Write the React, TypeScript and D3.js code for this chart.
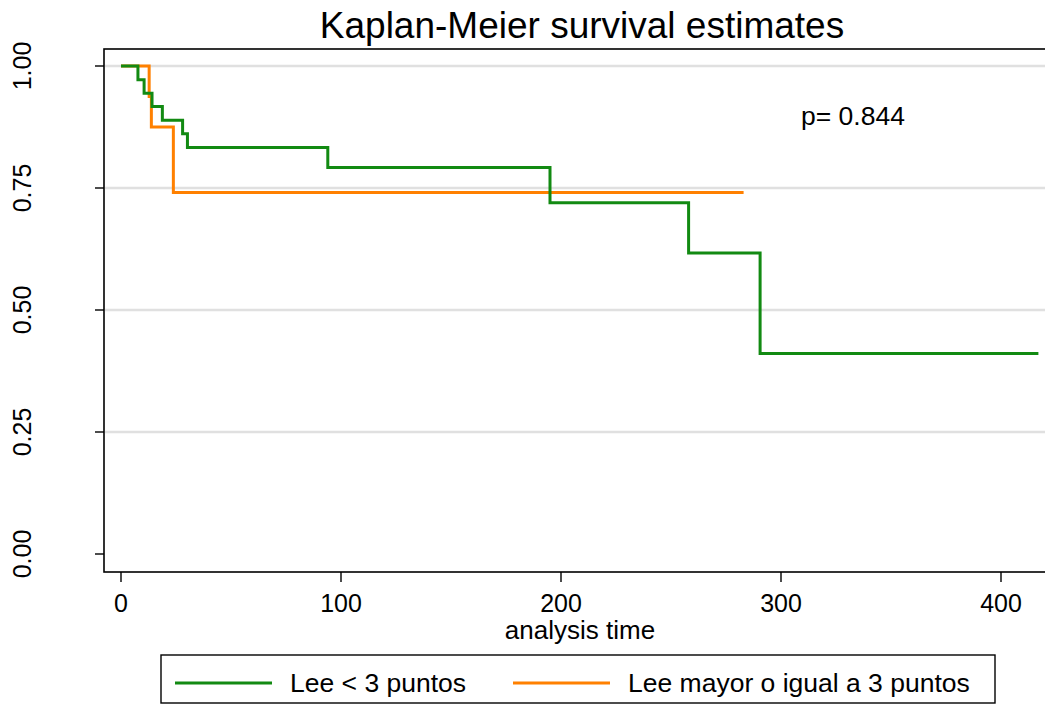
import React from "react";
import * as d3 from "d3";

const title = "Kaplan-Meier survival estimates";
const xLabel = "analysis time";
const pText = "p= 0.844";

const xTicks = [0, 100, 200, 300, 400];
const yTicks = [0, 0.25, 0.5, 0.75, 1];
const yTickLabels = ["0.00", "0.25", "0.50", "0.75", "1.00"];
const gridTicks = [0.25, 0.5, 0.75, 1];

const seriesNames = ["Lee < 3 puntos", "Lee mayor o igual a 3 puntos"];
const seriesColors = ["#128a12", "#ff8000"];

const greenTimes = [0, 7.7, 10.5, 14.1, 18.8, 28, 30.2, 94, 195, 258, 290.5, 417];
const greenSurv = [1, 0.972, 0.944, 0.917, 0.889, 0.861, 0.833, 0.792, 0.72, 0.617, 0.411, 0.411];
const orangeTimes = [0, 12.8, 13.8, 23.8, 283];
const orangeSurv = [1, 0.9375, 0.875, 0.741, 0.741];

const W = 1045;
const H = 707;
const FONT = "'Liberation Sans', Arial, Helvetica, sans-serif";

export default function App() {
  const frame = { left: 104, top: 49, right: 1058, bottom: 572 };
  const x = d3.scaleLinear().domain([0, 400]).range([121, 1001]);
  const y = d3.scaleLinear().domain([0, 1]).range([554, 66]);

  const line = d3
    .line<[number, number]>()
    .x((d) => x(d[0]))
    .y((d) => y(d[1]))
    .curve(d3.curveStepAfter);

  const green: [number, number][] = greenTimes.map((t, i) => [t, greenSurv[i]]);
  const orange: [number, number][] = orangeTimes.map((t, i) => [t, orangeSurv[i]]);

  const legend = { x: 161, y: 655, w: 834, h: 48 };

  return (
    <svg
      width={W}
      height={H}
      style={{ position: "absolute", left: 0, top: 0, background: "#fff", display: "block" }}
      fontFamily={FONT}
    >
      <rect x={0} y={0} width={W} height={H} fill="#fff" />
      <text x={582} y={38} fontSize={37} textAnchor="middle" fill="#000">
        {title}
      </text>

      {gridTicks.map((v) => (
        <line
          key={"g" + v}
          x1={frame.left + 1}
          x2={frame.right}
          y1={y(v)}
          y2={y(v)}
          stroke="#e0e0e0"
          strokeWidth={2.5}
        />
      ))}

      <path d={line(orange) || ""} fill="none" stroke={seriesColors[1]} strokeWidth={3} />
      <path d={line(green) || ""} fill="none" stroke={seriesColors[0]} strokeWidth={3} />

      <rect
        x={frame.left}
        y={frame.top}
        width={frame.right - frame.left}
        height={frame.bottom - frame.top}
        fill="none"
        stroke="#000"
        strokeWidth={1.6}
      />

      {yTicks.map((v, i) => (
        <g key={"y" + v}>
          <line x1={frame.left - 9} x2={frame.left} y1={y(v)} y2={y(v)} stroke="#000" strokeWidth={1.4} />
          <text
            transform={`translate(31,${y(v)}) rotate(-90)`}
            fontSize={25}
            textAnchor="middle"
            fill="#000"
          >
            {yTickLabels[i]}
          </text>
        </g>
      ))}

      {xTicks.map((v) => (
        <g key={"x" + v}>
          <line x1={x(v)} x2={x(v)} y1={frame.bottom} y2={frame.bottom + 10} stroke="#000" strokeWidth={1.4} />
          <text x={x(v)} y={612} fontSize={25} textAnchor="middle" fill="#000">
            {v}
          </text>
        </g>
      ))}

      <text x={580} y={639} fontSize={26} textAnchor="middle" fill="#000">
        {xLabel}
      </text>

      <text x={801} y={125} fontSize={26.5} fill="#000">
        {pText}
      </text>

      <rect x={legend.x} y={legend.y} width={legend.w} height={legend.h} fill="#fff" stroke="#000" strokeWidth={1.4} />
      <line x1={175} x2={272} y1={683} y2={683} stroke={seriesColors[0]} strokeWidth={3} />
      <text x={290} y={692} fontSize={26.5} fill="#000">
        {seriesNames[0]}
      </text>
      <line x1={513} x2={610} y1={683} y2={683} stroke={seriesColors[1]} strokeWidth={3} />
      <text x={628} y={692} fontSize={26.5} fill="#000">
        {seriesNames[1]}
      </text>
    </svg>
  );
}
